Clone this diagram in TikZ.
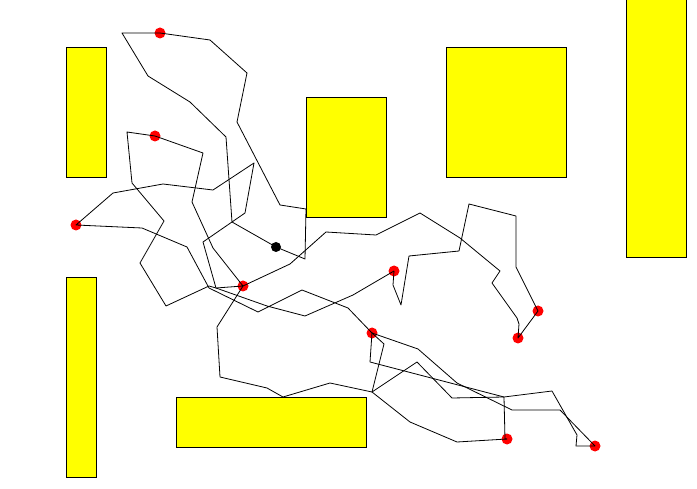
\documentclass[tikz,border=0pt]{standalone}
\usepackage{tikz}
\definecolor{obstyellow}{RGB}{255, 255, 0}
\definecolor{goalred}{RGB}{255, 0, 0}

\begin{document}
\begin{tikzpicture}[x=1pt, y=-1pt,
    obstacle/.style={draw=black, fill=obstyellow, line width=0.9pt},
    goal/.style={circle, fill=goalred, inner sep=0pt, minimum size=11pt},
    robot/.style={circle, fill=black, inner sep=0pt, minimum size=10pt},
    route/.style={black, line width=0.8pt, line join=round}]
    \useasboundingbox (0,0) rectangle (697,489);

    % Goals
    \node[goal] (g1) at (160,33) {};
    \node[goal] (g2) at (155,136) {};
    \node[goal] (g3) at (243,286) {};
    \node[goal] (g4) at (76,225) {};
    \node[goal] (g5) at (394,271) {};
    \node[goal] (g6) at (372,333) {};
    \node[goal] (g7) at (538,311) {};
    \node[goal] (g8) at (518,338) {};
    \node[goal] (g9) at (507,439) {};
    \node[goal] (g10) at (595,446) {};
    \coordinate (start) at (276,247);

    % Routes
    \draw[route] (start) -- (305,259) -- (306,209) -- (280,205) -- (237,122) -- (247,73)
        -- (210,40) -- (g1.center) -- (122,33) -- (148,76) -- (190,102) -- (226,137)
        -- (232,222) -- (start);
    \draw[route] (g6.center) -- (348,308) -- (302,290) -- (258,312) -- (209,288) -- (187,247)
        -- (142,228) -- (g4.center) -- (113,193) -- (163,184) -- (213,190) -- (254,163)
        -- (245,213) -- (203,242) -- (216,288) -- (267,306) -- (305,316) -- (353,295) -- (g5.center);
    \draw[route] (g3.center) -- (213,248) -- (192,202) -- (203,153) -- (g2.center) -- (127,132)
        -- (132,183) -- (164,221) -- (140,263) -- (166,306) -- (209,286) -- (216,288) -- (g3.center);
    \draw[route] (g3.center) -- (290,264) -- (326,232) -- (376,235) -- (420,213) -- (460,238)
        -- (500,271) -- (492,283) -- (517,318) -- (519,324) -- (g8.center) -- (g7.center)
        -- (516,267) -- (516,216) -- (469,204) -- (459,251) -- (409,256) -- (401,305)
        -- (393,285) -- (g5.center);
    \draw[route] (g3.center) -- (217,327) -- (220,377) -- (267,388) -- (283,397) -- (330,383)
        -- (372,392) -- (417,362) -- (452,398) -- (504,397) -- (505,439) -- (g9.center);
    \draw[route] (g6.center) -- (384,344) -- (372,392) -- (410,422) -- (457,442) -- (g9.center);
    \draw[route] (g6.center) -- (370,362) -- (504,397) -- (552,391) -- (577,435) -- (576,446) -- (g10.center);
    \draw[route] (g6.center) -- (418,349) -- (457,383) -- (512,410) -- (560,410) -- (g10.center);

    % Obstacles
    \draw[obstacle] (66,47) rectangle (106,177);
    \draw[obstacle] (306,97) rectangle (386,217);
    \draw[obstacle] (446,47) rectangle (566,177);
    \draw[obstacle] (626,-2) rectangle (686,257);
    \draw[obstacle] (66,277) rectangle (96,477);
    \draw[obstacle] (176,397) rectangle (366,447);

    % Robot
    \node[robot] (robot) at (start) {};
\end{tikzpicture}
\end{document}
